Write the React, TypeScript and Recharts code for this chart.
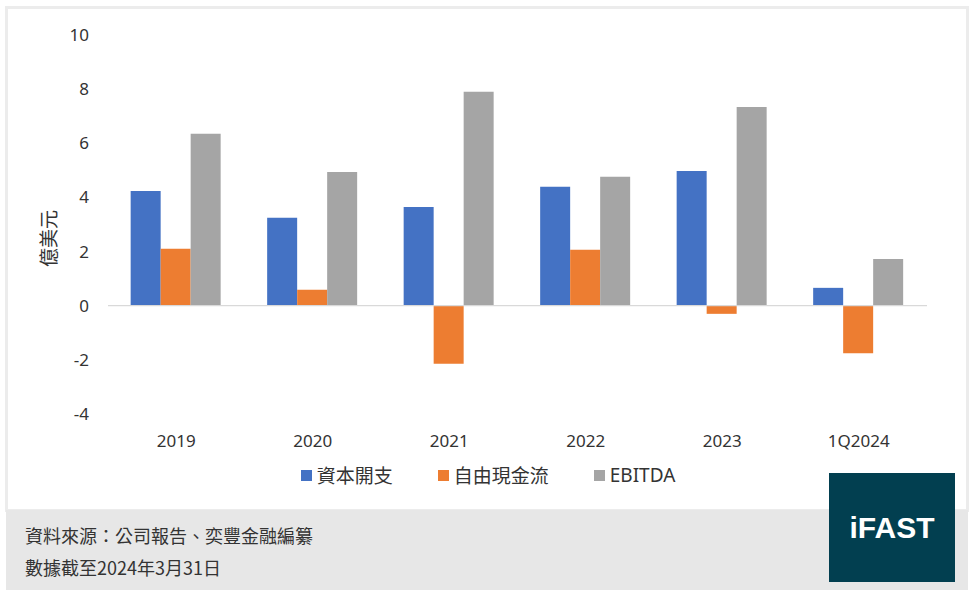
import React from 'react';
import { BarChart, Bar, XAxis, YAxis, Legend, ReferenceLine } from 'recharts';

const categories = ['2019', '2020', '2021', '2022', '2023', '1Q2024'];
const capex = [4.24, 3.25, 3.65, 4.39, 4.98, 0.66];
const fcf = [2.1, 0.59, -2.14, 2.07, -0.3, -1.76];
const ebitda = [6.35, 4.94, 7.9, 4.76, 7.34, 1.73];
const yTicks = [-4, -2, 0, 2, 4, 6, 8, 10];
const seriesNames = ['資本開支', '自由現金流', 'EBITDA'];
const seriesColors = ['#4472C4', '#ED7D31', '#A5A5A5'];

const data = categories.map((c, i) => ({ cat: c, capex: capex[i], fcf: fcf[i], ebitda: ebitda[i] }));

const FONT = '"Noto Sans", "Noto Sans CJK TC", sans-serif';

const LegendContent = (props: any) => {
  const payload = [...(props.payload || [])].sort(
    (a: any, b: any) => seriesNames.indexOf(a.value) - seriesNames.indexOf(b.value)
  );
  return (
    <div style={{ display: 'flex', justifyContent: 'center', alignItems: 'center', fontFamily: FONT, fontSize: 19, color: '#333' }}>
      {payload.map((p: any, i: number) => (
        <div key={i} style={{ display: 'flex', alignItems: 'center', marginLeft: i === 0 ? 0 : 45 }}>
          <div style={{ width: 11, height: 11, background: p.color, marginRight: 5 }} />
          <span>{p.value}</span>
        </div>
      ))}
    </div>
  );
};

const YLabel = (props: any) => {
  const vb = props.viewBox || { x: 0, y: 0, width: 0, height: 0 };
  const cx = vb.x + 49;
  const cy = vb.y + vb.height / 2 + 14;
  return (
    <text x={cx} y={cy} transform={`rotate(-90 ${cx} ${cy})`} textAnchor="middle" dominantBaseline="central"
      style={{ fontFamily: FONT, fontSize: 19, fill: '#333' }}>
      億美元
    </text>
  );
};

export default function App() {
  return (
    <div style={{ position: 'absolute', left: 0, top: 0, width: 976, height: 599, background: '#fff', fontFamily: FONT }}>
      <div style={{ position: 'absolute', left: 5, top: 6, width: 964, height: 506, boxSizing: 'border-box', border: '3px solid #ececec', background: '#fff' }} />
      <div style={{ position: 'absolute', left: 6, top: 510, width: 962, height: 80, background: '#e7e7e7' }} />
      <div style={{ position: 'absolute', left: 25, top: 523, fontSize: 18, lineHeight: '24px', color: '#333', fontFamily: '"Noto Sans CJK TC", sans-serif', whiteSpace: 'nowrap' }}>
        資料來源：公司報告、奕豐金融編纂
      </div>
      <div style={{ position: 'absolute', left: 25, top: 555, fontSize: 18, lineHeight: '24px', color: '#333', fontFamily: '"Noto Sans CJK TC", sans-serif', whiteSpace: 'nowrap' }}>
        數據截至2024年3月31日
      </div>
      <div style={{ position: 'absolute', left: 0, top: 0 }}>
        <BarChart width={976} height={500} data={data} margin={{ top: 35, right: 49, bottom: 56, left: 0 }} barCategoryGap="16.6%" barGap={0}>
          <YAxis type="number" domain={[-4, 10]} ticks={yTicks} interval={0} width={108} axisLine={false} tickLine={false} tickSize={6} tickMargin={13}
            tick={{ fontSize: 17, fill: '#333', fontFamily: FONT }} label={<YLabel />} />
          <XAxis dataKey="cat" axisLine={false} tickLine={false} tickMargin={15} interval={0}
            tick={{ fontSize: 17, fill: '#333', fontFamily: FONT }} />
          <ReferenceLine y={0} stroke="#d9d9d9" strokeWidth={1.3} />
          <Bar dataKey="capex" name={seriesNames[0]} fill={seriesColors[0]} isAnimationActive={false} />
          <Bar dataKey="fcf" name={seriesNames[1]} fill={seriesColors[1]} isAnimationActive={false} />
          <Bar dataKey="ebitda" name={seriesNames[2]} fill={seriesColors[2]} isAnimationActive={false} />
          <Legend layout="horizontal" verticalAlign="middle" align="center" content={<LegendContent />}
            wrapperStyle={{ top: 461, left: 0, width: 976 }} />
        </BarChart>
      </div>
      <div style={{ position: 'absolute', left: 829, top: 473, width: 126, height: 109, background: '#023F50', display: 'flex', alignItems: 'center', justifyContent: 'center' }}>
        <span style={{ color: '#fff', fontFamily: '"Liberation Sans", Arial, sans-serif', fontWeight: 700, fontSize: 30 }}>iFAST</span>
      </div>
    </div>
  );
}
